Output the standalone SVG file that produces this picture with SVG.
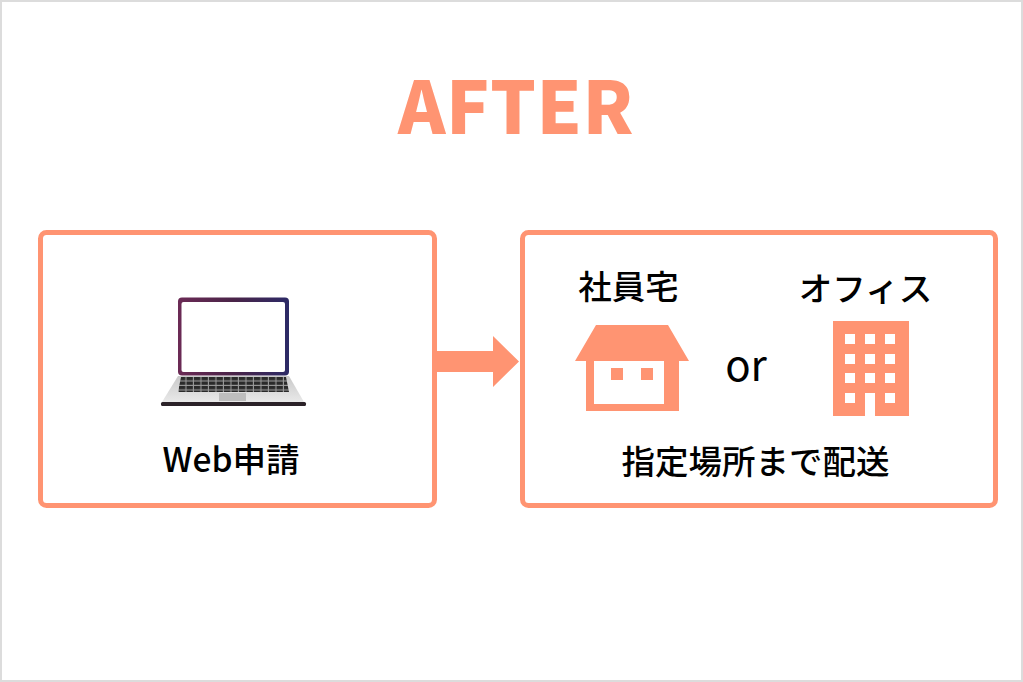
<svg xmlns="http://www.w3.org/2000/svg" width="1023" height="682" viewBox="0 0 1023 682">
<defs>
<linearGradient id="bezel" x1="0" x2="1" y1="0" y2="0"><stop offset="0" stop-color="#6b2a55"/><stop offset="0.5" stop-color="#4a2448"/><stop offset="1" stop-color="#2c2a66"/></linearGradient>
<linearGradient id="deck" x1="0" x2="0" y1="0" y2="1"><stop offset="0" stop-color="#c9c9c9"/><stop offset="1" stop-color="#e9e9e9"/></linearGradient>
<pattern id="keys" x="179" y="377" width="7.500" height="4.500" patternUnits="userSpaceOnUse"><rect width="7.500" height="4.500" fill="#9a9a9a"/><rect width="6.400" height="3.400" fill="#2a2a2a"/></pattern>
</defs>
<style>
.box{fill:#fff;stroke:#ff9472;stroke-width:5}
.o{fill:#ff9472}
.w{fill:#fff}
.t{font-family:"Noto Sans CJK JP","Noto Sans",sans-serif;font-weight:500;fill:#000;text-anchor:middle;font-size:33.500px}
</style>
<rect x="1" y="1" width="1021" height="680" fill="#fff" stroke="#dcdcdc" stroke-width="2"/>
<text id="title" x="516" y="134" font-family="'Noto Sans CJK JP','Noto Sans',sans-serif" font-weight="900" font-size="72" letter-spacing="0.500" fill="#ff9472" text-anchor="middle">AFTER</text>
<g id="left-box">
<rect class="box" x="40.500" y="232.500" width="394" height="273" rx="6"/>
<g id="laptop">
<rect x="178" y="297.500" width="111" height="78" rx="4" fill="url(#bezel)"/>
<rect x="181.500" y="302" width="103.500" height="70" rx="2" fill="#fff"/>
<path d="M178 376H289L304 402H162Z" fill="url(#deck)"/>
<path d="M181 377H286L289 392H178Z" fill="url(#keys)"/>
<rect x="219" y="393" width="27" height="8" fill="#bdbdbd"/>
<rect x="161" y="402" width="145" height="4" rx="1.500" fill="#2b2228"/>
</g>
<text class="t" x="231" y="472">Web申請</text>
</g>
<g id="connectors">
<path class="o" d="M436 351H493V336L519 361.500L493 387V372H436Z"/>
</g>
<g id="right-box">
<rect class="box" x="522.500" y="232.500" width="473" height="273" rx="6"/>
<text class="t" x="628.500" y="299">社員宅</text>
<g id="house">
<path class="o" d="M596 325H668L689 361H679V411H586V361H575Z"/>
<rect class="w" x="594" y="361" width="70" height="43"/>
<rect class="o" x="611" y="368" width="12" height="12"/>
<rect class="o" x="641" y="368" width="12" height="12"/>
</g>
<text x="746" y="381" font-family="'Noto Sans CJK JP','Noto Sans',sans-serif" font-size="42" text-anchor="middle" fill="#000">or</text>
<text class="t" x="865.500" y="301">オフィス</text>
<g id="office">
<rect class="o" x="833" y="321" width="76" height="95"/>
<g class="w">
<rect x="845" y="334" width="10" height="10"/><rect x="865" y="334" width="10" height="10"/><rect x="885" y="334" width="10" height="10"/>
<rect x="845" y="354" width="10" height="10"/><rect x="865" y="354" width="10" height="10"/><rect x="885" y="354" width="10" height="10"/>
<rect x="845" y="373" width="10" height="10"/><rect x="865" y="373" width="10" height="10"/><rect x="885" y="373" width="10" height="10"/>
<rect x="845" y="393" width="10" height="10"/><rect x="885" y="393" width="10" height="10"/>
<rect x="865" y="393" width="10" height="23"/>
</g>
</g>
<text class="t" x="755.500" y="474">指定場所まで配送</text>
</g>
</svg>
